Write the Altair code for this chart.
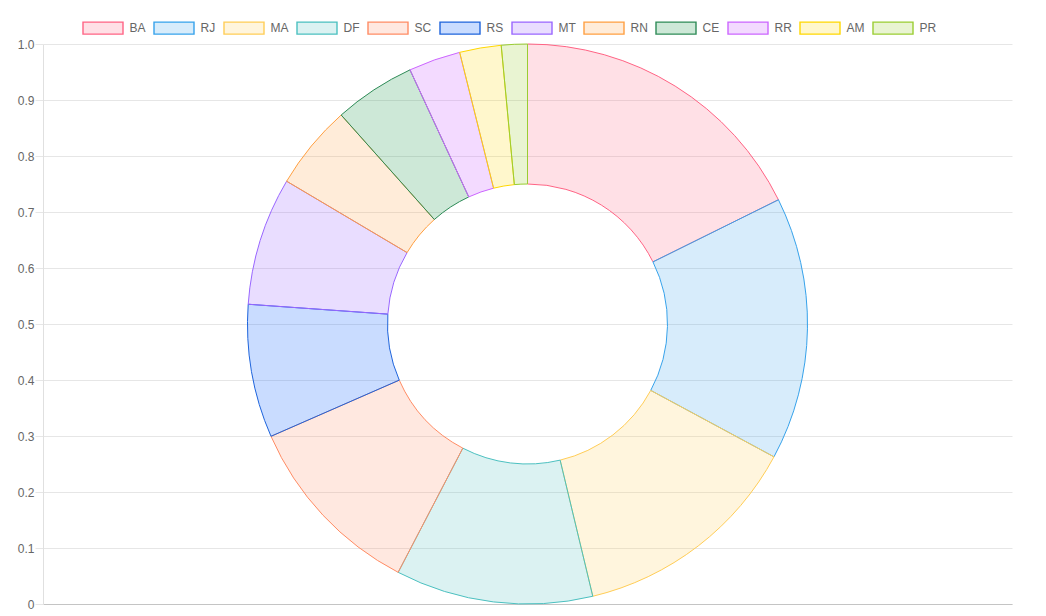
import altair as alt
import pandas as pd

# ---- data ----
states = ["BA", "RJ", "MA", "DF", "SC", "RS", "MT", "RN", "CE", "RR", "AM", "PR"]
values = [177, 152, 134, 114, 108, 77, 74, 49, 47, 30, 24, 15]
stroke_colors = [
    "rgb(255,99,132)", "rgb(54,162,235)", "rgb(255,205,86)", "rgb(75,192,192)",
    "rgb(255,140,100)", "rgb(30,100,220)", "rgb(153,102,255)", "rgb(255,159,64)",
    "rgb(46,139,87)", "rgb(204,102,255)", "rgb(255,215,0)", "rgb(154,205,50)",
]
fill_colors = [
    "rgba(255,99,132,0.2)", "rgba(54,162,235,0.2)", "rgba(255,205,86,0.2)", "rgba(75,192,192,0.2)",
    "rgba(255,140,100,0.2)", "rgba(30,110,255,0.24)", "rgba(153,102,255,0.22)", "rgba(255,159,64,0.2)",
    "rgba(46,160,87,0.24)", "rgba(204,102,255,0.24)", "rgba(255,215,0,0.2)", "rgba(154,205,50,0.22)",
]
y_ticks = [0, 0.1, 0.2, 0.3, 0.4, 0.5, 0.6, 0.7, 0.8, 0.9, 1.0]

df = pd.DataFrame({"state": states, "value": values, "idx": list(range(len(states)))})
axis_df = pd.DataFrame({"y": y_ticks, "x": [0.5] * len(y_ticks)})

FONT = "Liberation Sans"

legend = alt.Legend(
    orient="none", legendX=39, legendY=-23, direction="horizontal", columns=12,
    title=None, padding=0,
    symbolType="M-1,-1h6.667v2h-6.667z", symbolSize=144, symbolStrokeWidth=1.4,
    labelOffset=33.5, labelFontSize=12, labelColor="#666", labelFont=FONT,
    columnPadding=5,
)

base = alt.Chart(axis_df).mark_point(opacity=0).encode(
    x=alt.X("x:Q", scale=alt.Scale(domain=[0, 1]),
            axis=alt.Axis(labels=False, ticks=False, grid=False, domainColor="#c4c4c4", title=None)),
    y=alt.Y("y:Q", scale=alt.Scale(domain=[0, 1], nice=False),
            axis=alt.Axis(values=y_ticks,
                          labelExpr="datum.value == 0 ? '0' : format(datum.value, '.1f')",
                          tickSize=8, tickColor="#e6e6e6", gridColor="#e6e6e6",
                          domainColor="#e0e0e0", labelColor="#666", labelFontSize=12,
                          labelFont=FONT, labelPadding=1, title=None)),
)

arc = alt.Chart(df).mark_arc(innerRadius=140, outerRadius=280, strokeWidth=1).encode(
    theta=alt.Theta("value:Q", stack=True),
    order=alt.Order("idx:Q"),
    fill=alt.Fill("state:N", scale=alt.Scale(domain=states, range=fill_colors), legend=legend),
    stroke=alt.Stroke("state:N", scale=alt.Scale(domain=states, range=stroke_colors), legend=legend),
)

chart = alt.layer(base, arc).properties(
    width=969, height=560, autosize="none",
    padding={"left": 43, "top": 44, "right": 34, "bottom": 12},
).configure_view(stroke=None)

chart.save("out.html", embed_options={"renderer": "svg", "actions": False})
